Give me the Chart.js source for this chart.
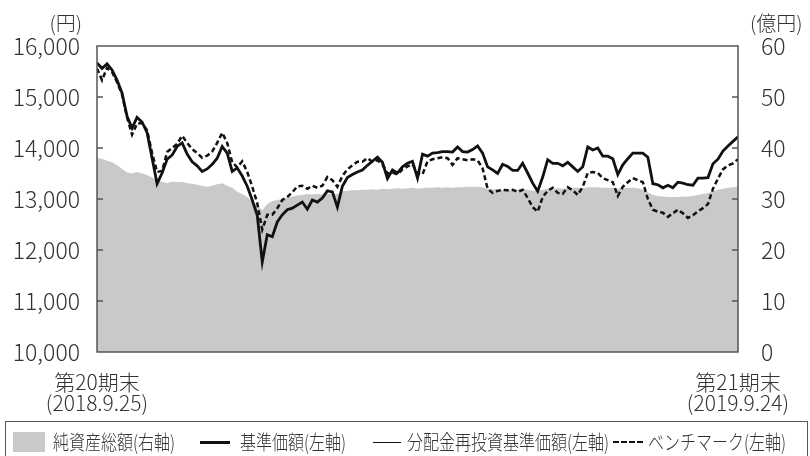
<!DOCTYPE html>
<html lang="ja">
<head>
<meta charset="utf-8">
<script src="https://cdn.jsdelivr.net/npm/chart.js@4.4.1/dist/chart.umd.min.js"></script>
<style>
  html, body { margin: 0; padding: 0; background: #fff; overflow: hidden; }
  #wrap { position: relative; width: 810px; height: 456px; font-family: "Noto Sans CJK JP", sans-serif; font-weight: 300; color: #333; }
  #chart { position: absolute; left: 0; top: 0; }
  .unit { position: absolute; top: 12px; font-size: 20px; line-height: 22px; white-space: nowrap; }
  #legendBox { position: absolute; left: 5px; top: 421px; width: 803px; height: 60px; border: 1.5px solid #555; box-sizing: border-box; }
  .lg { position: absolute; top: 430px; font-size: 20px; line-height: 24px; white-space: nowrap; transform: scaleX(0.8); transform-origin: left center; }
  .swatch { position: absolute; left: 13px; top: 432px; width: 32px; height: 20px; background: #c9c9c9; }
  .ln { position: absolute; height: 0; }
</style>
</head>
<body>
<div id="wrap">
  <canvas id="chart" width="810" height="456"></canvas>
  <div class="unit" style="right: 728px;">(円)</div>
  <div class="unit" style="left: 750px;">(億円)</div>
  <div id="legendBox"></div>
  <div class="swatch"></div>
  <div class="lg" style="left: 53px;">純資産総額(右軸)</div>
  <div class="ln" style="left: 200px; top: 441px; width: 30px; border-top: 3px solid #111;"></div>
  <div class="lg" style="left: 240px;">基準価額(左軸)</div>
  <div class="ln" style="left: 373px; top: 442px; width: 28px; border-top: 1.5px solid #111;"></div>
  <div class="lg" style="left: 407px;">分配金再投資基準価額(左軸)</div>
  <div class="ln" style="left: 613px; top: 441px; width: 30px; border-top: 2.5px dashed #111;"></div>
  <div class="lg" style="left: 648px;">ベンチマーク(左軸)</div>
</div>
<script>
// x axis end labels (period ends)
const xLabels = [['第20期末', '(2018.9.25)'], ['第21期末', '(2019.9.24)']];

// 基準価額 (yen), sampled evenly across the period
const nav = [
  15670, 15560, 15650, 15530, 15330, 15080, 14620, 14390, 14600, 14510,
  14300, 13800, 13300, 13510, 13780, 13860, 14030, 14100, 13880, 13730,
  13650, 13540, 13590, 13680, 13800, 14030, 13900, 13540, 13610, 13450,
  13250, 12980, 12680, 11770, 12300, 12260, 12550, 12690, 12790, 12820,
  12880, 12940, 12800, 12980, 12940, 13020, 13160, 13140, 12840, 13250,
  13420, 13480, 13530, 13570, 13660, 13740, 13820, 13720, 13400, 13570,
  13510, 13630, 13700, 13740, 13410, 13880, 13840, 13900, 13910, 13930,
  13930, 13920, 14020, 13930, 13920, 13970, 14040, 13900, 13630, 13570,
  13500, 13680, 13640, 13560, 13560, 13700, 13510, 13310, 13150, 13430,
  13770, 13700, 13700, 13650, 13720, 13630, 13540, 13630, 14020, 13960,
  14000, 13840, 13840, 13790, 13480, 13670, 13790, 13900, 13900, 13900,
  13820, 13300, 13280, 13220, 13270, 13220, 13330, 13310, 13280, 13270,
  13410, 13410, 13420, 13690, 13780, 13940, 14040, 14130, 14220
];

// 分配金再投資基準価額 (yen): no distribution in the period, overlaps nav
const reinvestNav = nav;

// ベンチマーク (yen)
const benchmark = [
  15560, 15330, 15570, 15490, 15290, 15050, 14600, 14260, 14480, 14490,
  14350, 13900, 13530, 13550, 13920, 14000, 14080, 14240, 14100, 13980,
  13900, 13810, 13850, 13930, 14100, 14300, 14100, 13720, 13620, 13740,
  13530, 13240, 12920, 12400, 12690, 12690, 12820, 12980, 13040, 13130,
  13250, 13260, 13200, 13260, 13220, 13260, 13430, 13370, 13240, 13450,
  13580, 13660, 13730, 13730, 13800, 13730, 13760, 13680, 13500, 13520,
  13480, 13580, 13640, 13680, 13500, 13480, 13740, 13780, 13800, 13820,
  13800, 13670, 13800, 13780, 13760, 13780, 13760, 13600, 13200, 13120,
  13160, 13180, 13170, 13180, 13140, 13180, 13020, 12840, 12750, 13040,
  13160, 13220, 13120, 13100, 13230, 13170, 13080, 13240, 13510, 13530,
  13510, 13410, 13370, 13330, 13060, 13240, 13330, 13410, 13370, 13330,
  13000, 12790, 12750, 12730, 12650, 12720, 12790, 12720, 12630, 12680,
  12760, 12820, 12900, 13200, 13400, 13580, 13660, 13700, 13780
];

// 純資産総額 (100 million yen)
const netAssets = [
  38.0, 37.9, 37.5, 37.2, 36.6, 35.9, 35.2, 35.0, 35.3, 35.0,
  34.7, 34.2, 33.7, 33.4, 33.1, 33.4, 33.3, 33.4, 33.1, 33.0,
  32.8, 32.6, 32.4, 32.6, 32.9, 33.1, 32.6, 32.2, 31.4, 31.0,
  30.4, 29.4, 28.8, 27.8, 29.0, 29.6, 29.8, 30.0, 30.3, 30.5,
  30.7, 30.8, 31.0, 30.9, 31.0, 30.9, 31.0, 31.0, 31.0, 31.5,
  31.6, 31.7, 31.7, 31.8, 31.8, 31.9, 31.8, 32.0, 31.9, 32.0,
  32.1, 32.0, 32.1, 32.2, 32.0, 32.1, 32.2, 32.2, 32.3, 32.2,
  32.3, 32.2, 32.3, 32.3, 32.4, 32.4, 32.4, 32.3, 32.0, 31.9,
  31.9, 31.8, 31.8, 31.8, 31.8, 31.9, 31.8, 31.6, 31.6, 31.8,
  32.0, 32.0, 32.1, 32.0, 32.1, 32.2, 32.2, 32.1, 32.3, 32.3,
  32.3, 32.2, 32.2, 32.2, 32.0, 32.1, 32.2, 32.2, 32.1, 31.8,
  31.3, 30.8, 30.6, 30.5, 30.4, 30.4, 30.4, 30.5, 30.5, 30.6,
  30.8, 31.0, 31.2, 31.5, 31.8, 32.0, 32.2, 32.3, 32.4
];

const lastIdx = nav.length - 1;
const toPoints = arr => arr.map((v, i) => ({ x: i, y: v }));
const FONT = "'Noto Sans CJK JP', sans-serif";

// frame around plot area + short inward tick marks
const framePlugin = {
  id: 'frame',
  afterDatasetsDraw(chart) {
    const { ctx, chartArea: a, scales } = chart;
    ctx.save();
    ctx.strokeStyle = '#555';
    ctx.lineWidth = 1.5;
    ctx.strokeRect(a.left, a.top, a.right - a.left, a.bottom - a.top);
    ctx.beginPath();
    scales.y.ticks.forEach(t => {
      if (t.value <= scales.y.min || t.value >= scales.y.max) return;
      const y = scales.y.getPixelForValue(t.value);
      ctx.moveTo(a.left, y);
      ctx.lineTo(a.left + 6, y);
    });
    scales.y1.ticks.forEach(t => {
      if (t.value <= scales.y1.min || t.value >= scales.y1.max) return;
      const y = scales.y1.getPixelForValue(t.value);
      ctx.moveTo(a.right, y);
      ctx.lineTo(a.right - 6, y);
    });
    ctx.stroke();
    ctx.restore();
  }
};

new Chart(document.getElementById('chart'), {
  type: 'line',
  data: {
    datasets: [
      {
        label: '基準価額(左軸)',
        data: toPoints(nav),
        yAxisID: 'y',
        borderColor: '#111',
        borderWidth: 2.8,
        pointRadius: 0,
        tension: 0,
        order: 1
      },
      {
        label: '分配金再投資基準価額(左軸)',
        data: toPoints(reinvestNav),
        yAxisID: 'y',
        borderColor: '#111',
        borderWidth: 1,
        pointRadius: 0,
        tension: 0,
        order: 2
      },
      {
        label: 'ベンチマーク(左軸)',
        data: toPoints(benchmark),
        yAxisID: 'y',
        borderColor: '#111',
        borderWidth: 2.5,
        borderDash: [5, 3],
        pointRadius: 0,
        tension: 0,
        order: 3
      },
      {
        label: '純資産総額(右軸)',
        data: toPoints(netAssets),
        yAxisID: 'y1',
        borderWidth: 0,
        backgroundColor: '#c9c9c9',
        fill: 'origin',
        pointRadius: 0,
        tension: 0,
        order: 4
      }
    ]
  },
  options: {
    responsive: false,
    animation: false,
    layout: { padding: { top: 46, left: 0, right: 0, bottom: 0 } },
    plugins: {
      legend: { display: false },
      tooltip: { enabled: false }
    },
    scales: {
      x: {
        type: 'linear',
        min: 0,
        max: lastIdx,
        grid: { display: false },
        border: { display: false },
        afterBuildTicks: scale => {
          scale.ticks = [{ value: 0 }, { value: lastIdx }];
        },
        afterFit: scale => { scale.height = 104; },
        ticks: {
          autoSkip: false,
          maxRotation: 0,
          padding: 12,
          color: '#333',
          font: { family: FONT, size: 21, weight: 300, lineHeight: 1.0 },
          callback: value => (value === 0 ? xLabels[0] : xLabels[1])
        }
      },
      y: {
        position: 'left',
        min: 10000,
        max: 16000,
        grid: { display: false },
        border: { display: false },
        afterFit: scale => { scale.width = 97; },
        ticks: {
          stepSize: 1000,
          padding: 9,
          color: '#333',
          font: { family: FONT, size: 23, weight: 300 },
          callback: value => value.toLocaleString('en-US')
        }
      },
      y1: {
        position: 'right',
        min: 0,
        max: 60,
        grid: { display: false },
        border: { display: false },
        afterFit: scale => { scale.width = 72; },
        ticks: {
          stepSize: 10,
          padding: 15,
          color: '#333',
          font: { family: FONT, size: 23, weight: 300 }
        }
      }
    }
  },
  plugins: [framePlugin]
});
</script>
</body>
</html>
